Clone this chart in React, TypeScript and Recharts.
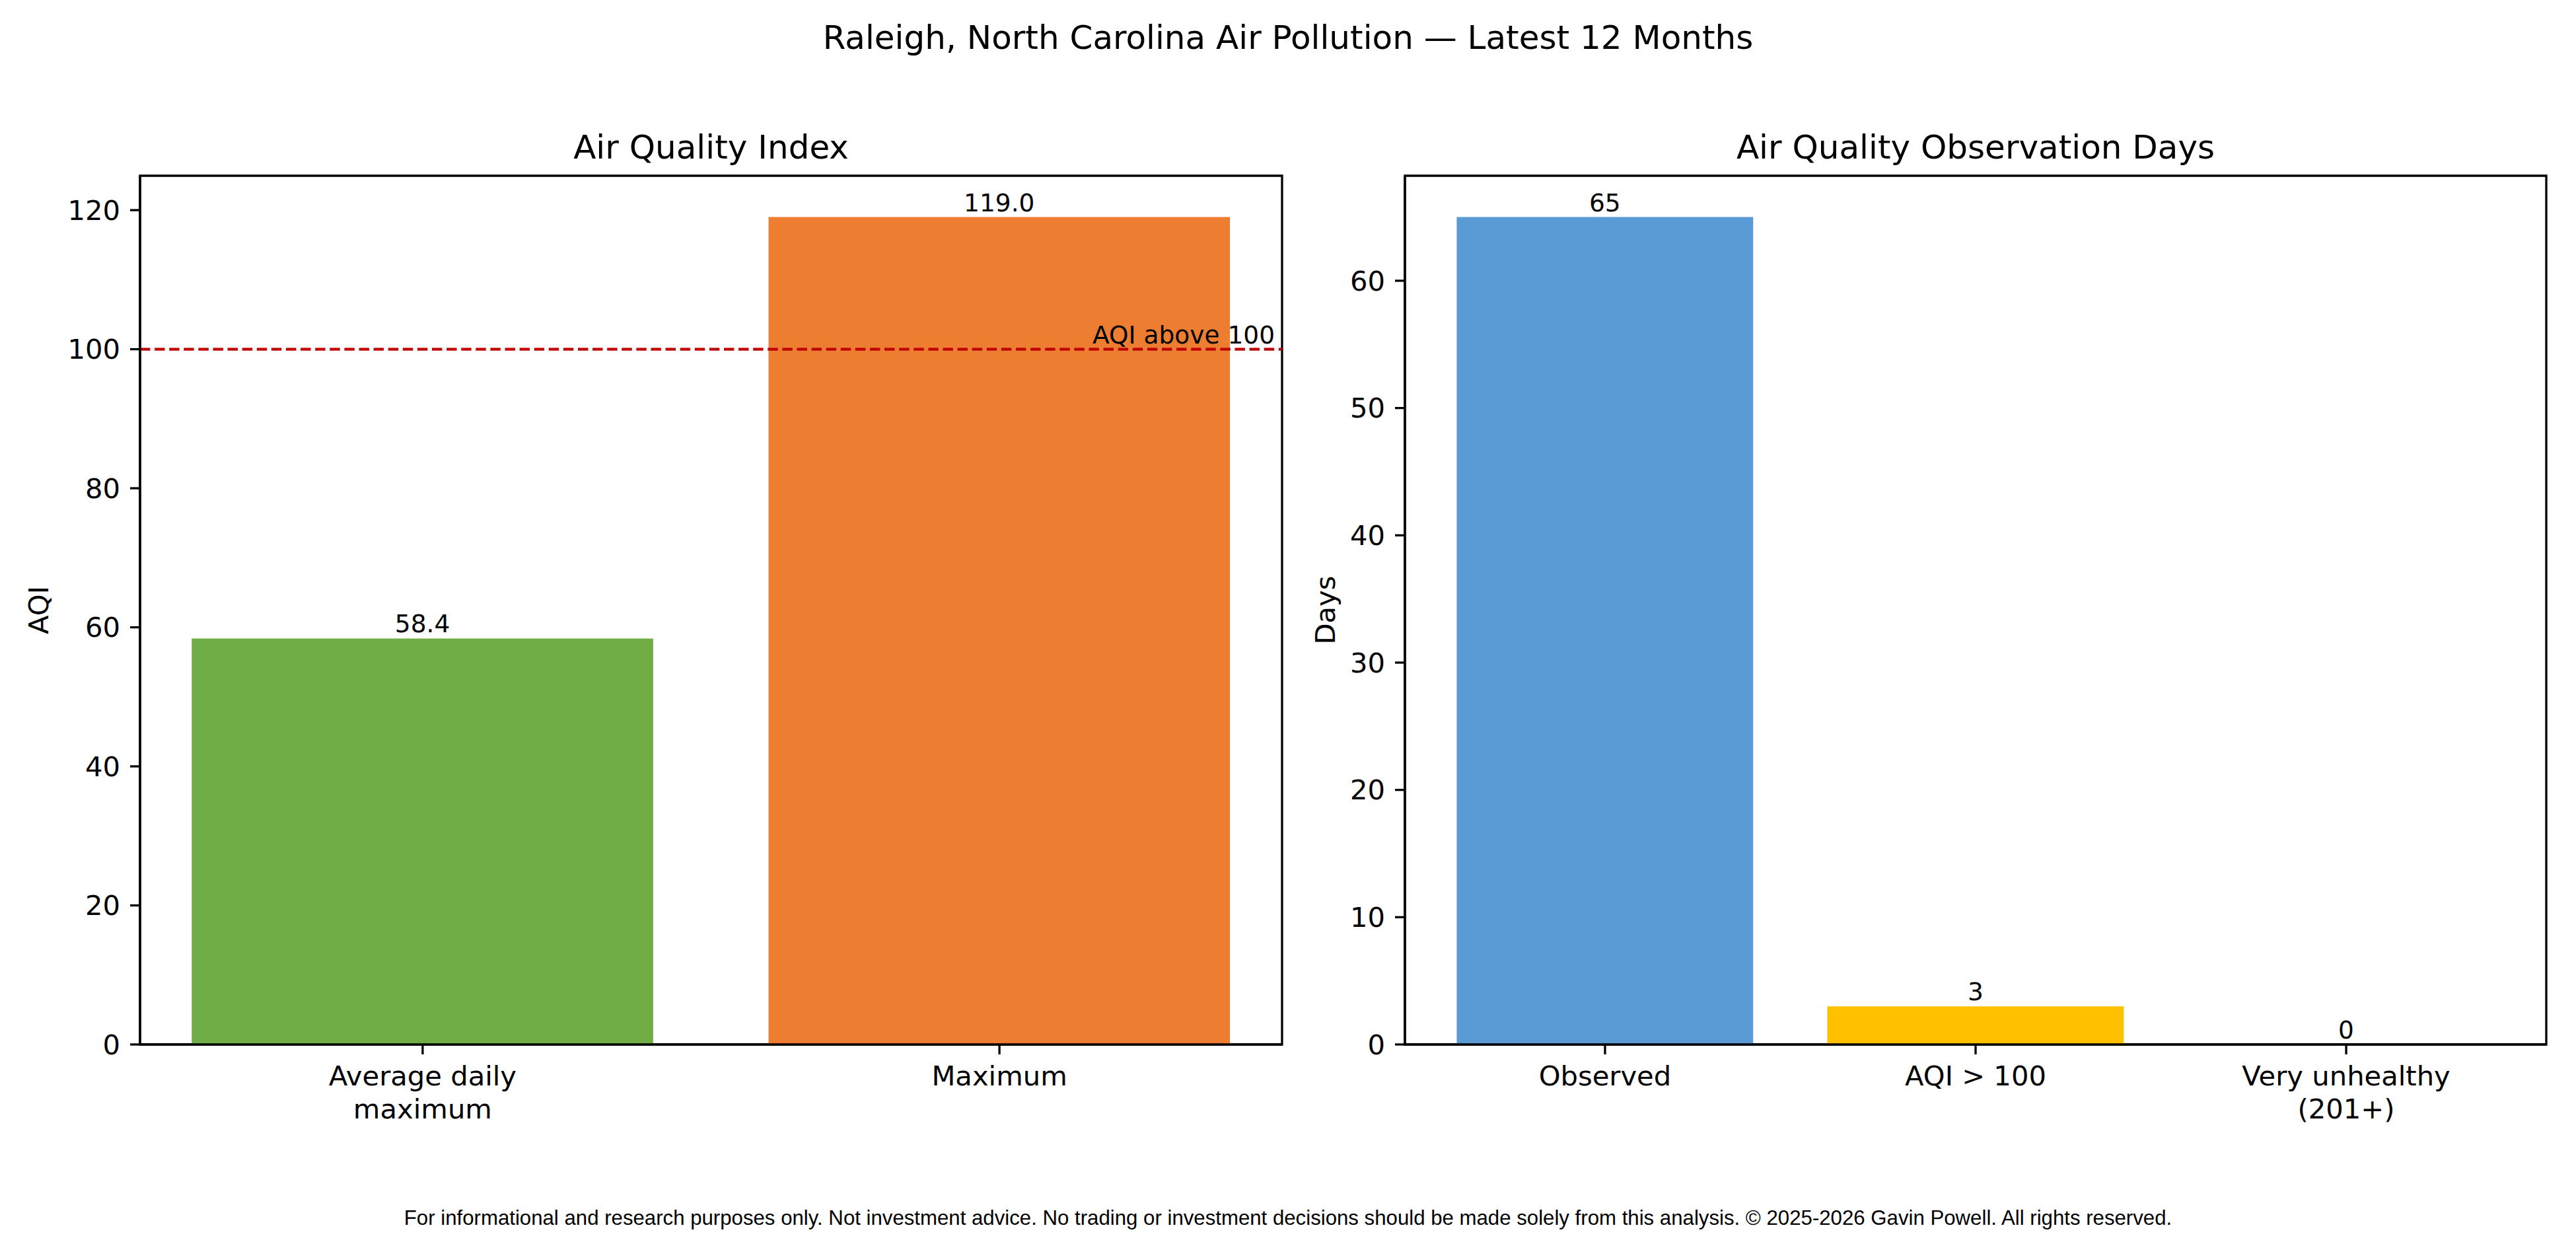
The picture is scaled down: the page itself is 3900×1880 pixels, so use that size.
import React from 'react';
import { BarChart, Bar, XAxis, YAxis, Cell, ReferenceLine, ReferenceArea, LabelList } from 'recharts';

// ---- data ----
const aqiCategories = ['Average daily\nmaximum', 'Maximum'];
const aqiValues = [58.4, 119.0];
const aqiColors = ['#70AD47', '#ED7D31'];
const aqiTicks = [0, 20, 40, 60, 80, 100, 120];
const aqiThreshold = 100;
const aqiThresholdLabel = 'AQI above 100';

const dayCategories = ['Observed', 'AQI > 100', 'Very unhealthy\n(201+)'];
const dayValues = [65, 3, 0];
const dayColors = ['#5B9BD5', '#FFC000', '#C00000'];
const dayTicks = [0, 10, 20, 30, 40, 50, 60];

const suptitle = 'Raleigh, North Carolina Air Pollution \u2014 Latest 12 Months';
const leftTitle = 'Air Quality Index';
const rightTitle = 'Air Quality Observation Days';
const leftYLabel = 'AQI';
const rightYLabel = 'Days';
const footer =
  'For informational and research purposes only. Not investment advice. No trading or investment decisions should be made solely from this analysis. \u00A9 2025-2026 Gavin Powell. All rights reserved.';

// ---- layout ----
const W = 3900;
const H = 1880;
const FONT = 'DejaVu Sans';
const TICK_FS = 41.7;
const LABEL_FS = 37.5;
const TITLE_FS = 50;
const LW = 3.3;
const PLOT_TOP = 266;
const PLOT_BOTTOM = 1581;
const L_LEFT = 212;
const L_RIGHT = 1941;
const R_LEFT = 2127;
const R_RIGHT = 3855;

const aqiData = aqiCategories.map((c, i) => ({ idx: i, name: c, value: aqiValues[i] }));
const dayData = dayCategories.map((c, i) => ({ idx: i, name: c, value: dayValues[i] }));

const aqiXDomain: [number, number] = [-0.49, 1.49];
const dayXDomain: [number, number] = [-0.54, 2.54];
const aqiYMax = 124.95;
const dayYMax = 68.25;

const aqiBarSize = (0.8 * (L_RIGHT - L_LEFT)) / (aqiXDomain[1] - aqiXDomain[0]);
const dayBarSize = (0.8 * (R_RIGHT - R_LEFT)) / (dayXDomain[1] - dayXDomain[0]);

const makeXTick = (cats: string[]) => (props: any) => {
  const { x, payload } = props;
  const lines = cats[payload.value] ? cats[payload.value].split('\n') : [];
  return (
    <text x={x} y={1643} textAnchor="middle" fontFamily={FONT} fontSize={TICK_FS} fill="#000">
      {lines.map((l, i) => (
        <tspan key={i} x={x} dy={i === 0 ? 0 : 50}>
          {l}
        </tspan>
      ))}
    </text>
  );
};

const makeBarLabel = (fmt: (v: number) => string) => (p: any) => {
  const vb = p.viewBox || p;
  const x = vb.x + vb.width / 2;
  const y = vb.height < 0 ? vb.y + vb.height : vb.y;
  return (
    <text x={x} y={y - 9} textAnchor="middle" fontFamily={FONT} fontSize={LABEL_FS} fill="#000">
      {fmt(Number(p.value))}
    </text>
  );
};

const yLabel = (text: string, cx: number) => () => (
  <text
    x={cx}
    y={(PLOT_TOP + PLOT_BOTTOM) / 2}
    transform={`rotate(-90 ${cx} ${(PLOT_TOP + PLOT_BOTTOM) / 2})`}
    textAnchor="middle"
    dominantBaseline="central"
    fontFamily={FONT}
    fontSize={TICK_FS}
    fill="#000"
  >
    {text}
  </text>
);

const tickStyle = { fontFamily: FONT, fontSize: TICK_FS, fill: '#000' };
const lineStyle = { stroke: '#000', strokeWidth: LW };

export default function App() {
  return (
    <div style={{ position: 'absolute', left: 0, top: 0, width: W, height: H, background: '#fff' }}>
      {/* Left panel */}
      <div style={{ position: 'absolute', left: 0, top: 0 }}>
        <BarChart
          width={W}
          height={H}
          data={aqiData}
          margin={{ top: PLOT_TOP, right: W - L_RIGHT, bottom: 0, left: 0 }}
        >
          <XAxis
            dataKey="idx"
            type="number"
            domain={aqiXDomain}
            ticks={[0, 1]}
            height={H - PLOT_BOTTOM}
            tick={makeXTick(aqiCategories)}
            tickSize={15}
            axisLine={lineStyle}
            tickLine={lineStyle}
            interval={0}
          />
          <YAxis
            type="number"
            domain={[0, aqiYMax]}
            ticks={aqiTicks}
            width={L_LEFT}
            tick={tickStyle}
            tickSize={15}
            tickMargin={15}
            axisLine={lineStyle}
            tickLine={lineStyle}
            interval={0}
            label={yLabel(leftYLabel, 58)}
          />
          <Bar dataKey="value" barSize={aqiBarSize} isAnimationActive={false}>
            {aqiData.map((d, i) => (
              <Cell key={i} fill={aqiColors[i]} />
            ))}
            <LabelList dataKey="value" content={makeBarLabel((v) => v.toFixed(1))} />
          </Bar>
          <ReferenceLine
            y={aqiThreshold}
            stroke="#C00000"
            strokeWidth={4.2}
            strokeDasharray="15.4 6.7"
            label={(p: any) => {
              const vb = p.viewBox || p;
              return (
                <text
                  x={vb.x + vb.width - 11}
                  y={vb.y - 9}
                  textAnchor="end"
                  fontFamily={FONT}
                  fontSize={LABEL_FS}
                  fill="#000"
                >
                  {aqiThresholdLabel}
                </text>
              );
            }}
          />
          <ReferenceArea
            x1={aqiXDomain[0]}
            x2={aqiXDomain[1]}
            y1={0}
            y2={aqiYMax}
            fill="none"
            fillOpacity={0}
            stroke="#000"
            strokeWidth={LW}
          />
        </BarChart>
      </div>

      {/* Right panel */}
      <div style={{ position: 'absolute', left: 0, top: 0 }}>
        <BarChart
          width={W}
          height={H}
          data={dayData}
          margin={{ top: PLOT_TOP, right: W - R_RIGHT, bottom: 0, left: 0 }}
        >
          <XAxis
            dataKey="idx"
            type="number"
            domain={dayXDomain}
            ticks={[0, 1, 2]}
            height={H - PLOT_BOTTOM}
            tick={makeXTick(dayCategories)}
            tickSize={15}
            axisLine={lineStyle}
            tickLine={lineStyle}
            interval={0}
          />
          <YAxis
            type="number"
            domain={[0, dayYMax]}
            ticks={dayTicks}
            width={R_LEFT}
            tick={tickStyle}
            tickSize={15}
            tickMargin={15}
            axisLine={lineStyle}
            tickLine={lineStyle}
            interval={0}
            label={yLabel(rightYLabel, 2006)}
          />
          <Bar dataKey="value" barSize={dayBarSize} minPointSize={0.001} isAnimationActive={false}>
            {dayData.map((d, i) => (
              <Cell key={i} fill={dayColors[i]} />
            ))}
            <LabelList dataKey="value" content={makeBarLabel((v) => String(Math.round(v)))} />
          </Bar>
          <ReferenceArea
            x1={dayXDomain[0]}
            x2={dayXDomain[1]}
            y1={0}
            y2={dayYMax}
            fill="none"
            fillOpacity={0}
            stroke="#000"
            strokeWidth={LW}
          />
        </BarChart>
      </div>

      {/* Figure-level text */}
      <svg
        width={W}
        height={H}
        style={{ position: 'absolute', left: 0, top: 0, pointerEvents: 'none' }}
      >
        <text x={1950} y={74} textAnchor="middle" fontFamily={FONT} fontSize={TITLE_FS} fill="#000">
          {suptitle}
        </text>
        <text x={(L_LEFT + L_RIGHT) / 2} y={240} textAnchor="middle" fontFamily={FONT} fontSize={TITLE_FS} fill="#000">
          {leftTitle}
        </text>
        <text x={(R_LEFT + R_RIGHT) / 2} y={240} textAnchor="middle" fontFamily={FONT} fontSize={TITLE_FS} fill="#000">
          {rightTitle}
        </text>
        <text x={1950} y={1854} textAnchor="middle" fontFamily="Liberation Sans" fontSize={31.2} fill="#000">
          {footer}
        </text>
      </svg>
    </div>
  );
}
